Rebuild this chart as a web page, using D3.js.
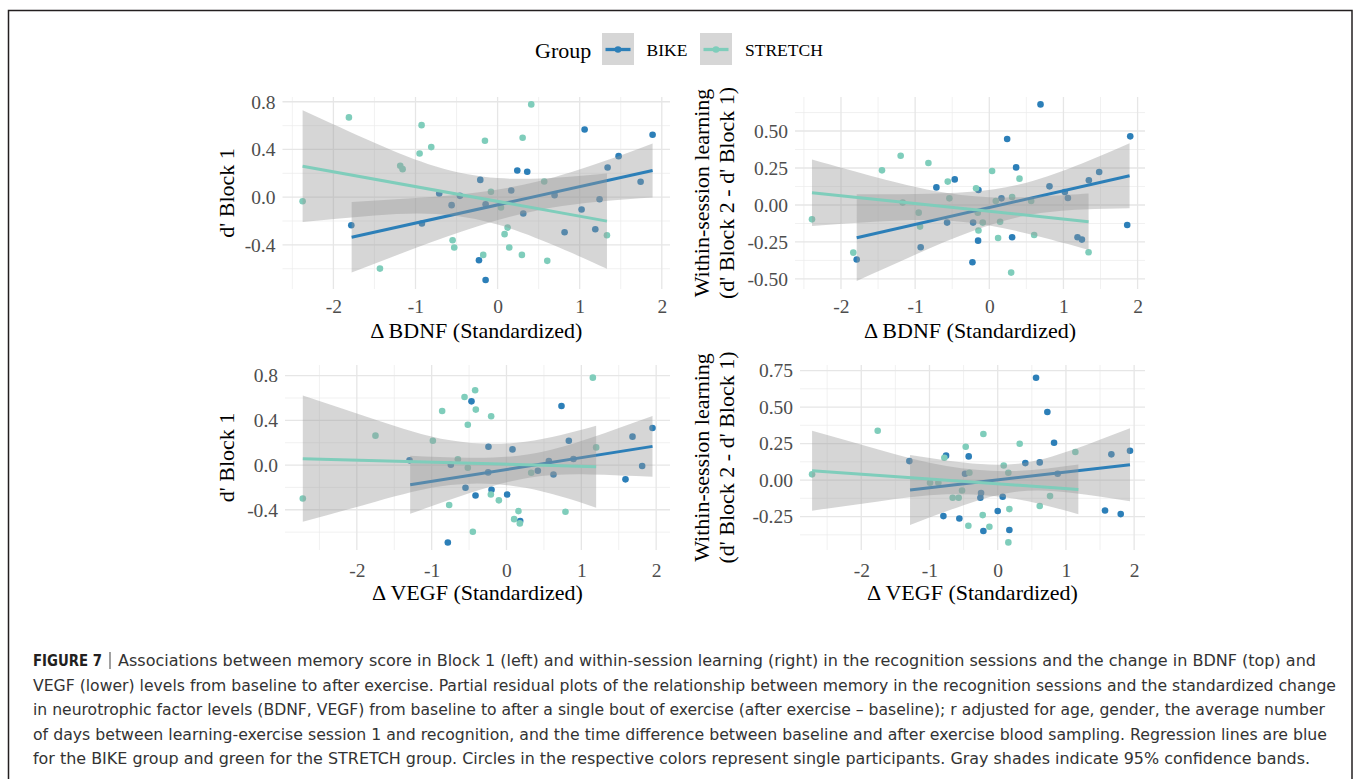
<!DOCTYPE html>
<html>
<head>
<meta charset="utf-8">
<script src="https://cdn.jsdelivr.net/npm/d3@7"></script>
<style>
    body { margin: 0; background: #fff; }
    svg { display: block; }
</style>
</head>
<body>
<script>
// Figure 7: partial residual plots, BIKE vs STRETCH, BDNF (top) and VEGF (bottom)

const groups = ["BIKE", "STRETCH"]
const groupColors = ["#2c7fb8", "#7fcdbb"]

const xTicks = [-2, -1, 0, 1, 2]
const xMinorTicks = [-2.5, -1.5, -0.5, 0.5, 1.5]
const block1Ticks = [-0.4, 0, 0.4, 0.8]
const block1Minor = [-0.6, -0.2, 0.2, 0.6]
const learnTicksTop = [-0.5, -0.25, 0, 0.25, 0.5]
const learnMinorTop = [-0.375, -0.125, 0.125, 0.375, 0.625]
const learnTicksBottom = [-0.25, 0, 0.25, 0.5, 0.75]
const learnMinorBottom = [-0.375, -0.125, 0.125, 0.375, 0.625]

// ---- BDNF vs d' Block 1 ----
const bdnfBlock1Bike = [[-1.782, -0.235], [-0.922, -0.221], [-0.711, 0.031], [-0.560, -0.067], [-0.459, 0.011], [-0.211, 0.145], [-0.227, -0.529], [-0.146, -0.694], [-0.146, -0.059], [0.166, 0.056], [0.240, 0.224], [0.361, 0.213], [0.313, -0.137], [0.694, 0.017], [0.816, -0.294], [1.023, -0.103], [1.060, 0.568], [1.190, -0.269], [1.242, -0.017], [1.340, 0.249], [1.474, 0.344], [1.742, 0.129], [1.888, 0.523]]
const bdnfBlock1Stretch = [[-2.375, -0.034], [-1.811, 0.669], [-1.433, -0.599], [-1.186, 0.263], [-1.157, 0.235], [-0.926, 0.604], [-0.950, 0.366], [-0.808, 0.420], [-0.548, -0.361], [-0.528, -0.422], [-0.081, 0.045], [-0.154, 0.473], [-0.175, -0.484], [0.041, -0.087], [0.122, -0.255], [0.085, -0.310], [0.142, -0.422], [0.296, -0.484], [0.305, 0.498], [0.410, 0.778], [0.568, 0.131], [0.605, -0.534], [1.332, -0.319]]
const bdnfBlock1Fit = [[[-1.778, -0.336], [1.888, 0.224]], [[-2.375, 0.260], [1.332, -0.201]]]
// [x, lower, upper]
const bdnfBlock1BandBike = [[-1.778, -0.632, -0.040], [-1, -0.427, -0.007], [-0.25, -0.246, 0.040], [0.5, -0.109, 0.133], [1.25, -0.037, 0.291], [1.888, -0.003, 0.451]]
const bdnfBlock1BandStretch = [[-2.375, -0.208, 0.728], [-1.5, -0.153, 0.456], [-0.75, -0.141, 0.257], [0, -0.230, 0.160], [0.75, -0.423, 0.166], [1.332, -0.601, 0.199]]

// ---- BDNF vs within-session learning ----
const bdnfLearnBike = [[-1.788, -0.369], [-0.925, -0.286], [-0.713, 0.119], [-0.569, -0.119], [-0.466, 0.173], [-0.218, -0.119], [-0.227, -0.387], [-0.146, 0.101], [-0.151, -0.241], [0.164, 0.045], [0.241, 0.446], [0.308, -0.218], [0.362, 0.254], [0.691, 0.680], [0.812, 0.126], [1.019, 0.088], [1.060, 0.047], [1.190, -0.218], [1.249, -0.234], [1.343, 0.167], [1.482, 0.223], [1.860, -0.135], [1.901, 0.464]]
const bdnfLearnStretch = [[-2.391, -0.097], [-1.834, -0.322], [-1.447, 0.234], [-1.195, 0.333], [-1.168, 0.016], [-0.821, 0.284], [-0.952, -0.052], [-0.934, -0.146], [-0.560, 0.158], [-0.538, 0.045], [-0.178, 0.113], [-0.155, -0.052], [-0.146, -0.173], [-0.088, -0.119], [0.038, 0.230], [0.088, 0.027], [0.119, -0.223], [0.146, -0.113], [0.308, 0.054], [0.295, -0.457], [0.407, 0.178], [0.565, 0.027], [0.605, -0.203], [1.339, -0.320]]
const bdnfLearnFit = [[[-1.788, -0.221], [1.892, 0.198]], [[-2.391, 0.083], [1.339, -0.113]]]
const bdnfLearnBandBike = [[-1.788, -0.514, 0.072], [-1, -0.336, 0.074], [-0.25, -0.181, 0.089], [0.5, -0.071, 0.151], [1.25, -0.031, 0.281], [1.892, -0.022, 0.418]]
const bdnfLearnBandStretch = [[-2.391, -0.142, 0.308], [-1.5, -0.112, 0.184], [-0.75, -0.102, 0.096], [0, -0.139, 0.053], [0.75, -0.223, 0.059], [1.339, -0.303, 0.077]]

// ---- VEGF vs d' Block 1 ----
const vegfBlock1Bike = [[-1.296, 0.042], [-0.744, 0.003], [-0.784, -0.693], [-0.548, -0.203], [-0.468, 0.570], [-0.414, -0.272], [-0.241, 0.164], [-0.245, -0.066], [-0.200, -0.221], [0.009, -0.263], [0.080, 0.140], [0.183, -0.501], [0.419, -0.051], [0.566, 0.036], [0.628, -0.084], [0.735, 0.528], [0.833, 0.218], [0.895, 0.054], [1.590, -0.128], [1.684, 0.254], [1.813, -0.009], [1.951, 0.331]]
const vegfBlock1Stretch = [[-2.722, -0.299], [-1.751, 0.263], [-0.984, 0.218], [-0.860, 0.484], [-0.766, -0.358], [-0.650, 0.051], [-0.561, 0.609], [-0.517, -0.024], [-0.517, 0.361], [-0.419, 0.669], [-0.410, 0.496], [-0.450, -0.597], [-0.205, 0.436], [-0.209, -0.263], [-0.102, -0.316], [0.102, -0.484], [0.160, -0.412], [0.178, -0.522], [0.330, -0.069], [0.788, -0.418], [1.154, 0.782], [1.198, 0.158]]
const vegfBlock1Fit = [[[-1.287, -0.176], [1.951, 0.167]], [[-2.722, 0.057], [1.198, -0.015]]]
const vegfBlock1BandBike = [[-1.287, -0.436, 0.084], [-0.5, -0.252, 0.066], [0.3, -0.113, 0.097], [1.1, -0.084, 0.238], [1.951, -0.105, 0.439]]
const vegfBlock1BandStretch = [[-2.722, -0.508, 0.622], [-1.75, -0.328, 0.406], [-0.75, -0.179, 0.221], [0.25, -0.204, 0.208], [1.198, -0.381, 0.351]]

// ---- VEGF vs within-session learning ----
const vegfLearnBike = [[-1.295, 0.130], [-0.796, -0.247], [-0.757, 0.167], [-0.562, -0.263], [-0.425, 0.162], [-0.479, 0.043], [-0.254, -0.121], [-0.244, -0.089], [-0.210, -0.349], [0.0, -0.212], [0.073, -0.114], [0.171, -0.342], [0.405, 0.116], [0.562, 0.701], [0.616, 0.121], [0.728, 0.466], [0.826, 0.256], [0.879, 0.043], [1.573, -0.208], [1.666, 0.176], [1.803, -0.233], [1.939, 0.201]]
const vegfLearnStretch = [[-2.721, 0.039], [-1.759, 0.338], [-0.992, -0.018], [-0.870, -0.018], [-0.782, 0.153], [-0.660, -0.121], [-0.572, -0.121], [-0.523, -0.071], [-0.469, 0.228], [-0.430, -0.313], [-0.415, 0.050], [-0.220, -0.240], [-0.210, 0.315], [-0.122, -0.320], [0.088, 0.100], [0.156, 0.050], [0.171, -0.199], [0.156, -0.427], [0.322, 0.249], [0.616, -0.178], [0.767, -0.110], [1.138, 0.192]]
const vegfLearnFit = [[[-1.285, -0.068], [1.939, 0.105]], [[-2.721, 0.064], [1.182, -0.064]]]
const vegfLearnBandBike = [[-1.285, -0.308, 0.172], [-0.5, -0.172, 0.120], [0.3, -0.078, 0.112], [1.1, -0.088, 0.208], [1.939, -0.145, 0.355]]
const vegfLearnBandStretch = [[-2.721, -0.210, 0.338], [-1.75, -0.146, 0.210], [-0.75, -0.098, 0.096], [0.25, -0.128, 0.062], [1.182, -0.234, 0.106]]

const captionLines = [
    "Associations between memory score in Block 1 (left) and within-session learning (right) in the recognition sessions and the change in BDNF (top) and",
    "VEGF (lower) levels from baseline to after exercise. Partial residual plots of the relationship between memory in the recognition sessions and the standardized change",
    "in neurotrophic factor levels (BDNF, VEGF) from baseline to after a single bout of exercise (after exercise \u2013 baseline); r adjusted for age, gender, the average number",
    "of days between learning-exercise session 1 and recognition, and the time difference between baseline and after exercise blood sampling. Regression lines are blue",
    "for the BIKE group and green for the STRETCH group. Circles in the respective colors represent single participants. Gray shades indicate 95% confidence bands."
]

const width = 1356,
    height = 779

const serif = '"Liberation Serif", "Times New Roman", serif'
const narrow = '"Liberation Sans Narrow", "Arial Narrow", "DejaVu Sans Condensed", sans-serif'

const locale = d3.formatLocale({ decimal: ".", thousands: ",", grouping: [3], currency: ["", ""], minus: "-" })

const panels = [
    {
        bike: bdnfBlock1Bike, stretch: bdnfBlock1Stretch, fit: bdnfBlock1Fit,
        bands: [bdnfBlock1BandBike, bdnfBlock1BandStretch],
        xDomain: [-2.62, 2.10], xRange: [282.5, 670], yDomain: [-0.77, 0.84], yRange: [289, 97],
        yTicks: block1Ticks, yMinor: block1Minor, fmt: locale.format(".1f"),
        xTitle: "\u0394 BDNF (Standardized)", yTitle: ["d' Block 1"], yTitleX: 226.7,
        tickPad: 10, xTitleY: 337.5
    },
    {
        bike: bdnfLearnBike, stretch: bdnfLearnStretch, fit: bdnfLearnFit,
        bands: [bdnfLearnBandBike, bdnfLearnBandStretch],
        xDomain: [-2.62, 2.10], xRange: [795, 1145], yDomain: [-0.568, 0.73], yRange: [289, 97],
        yTicks: learnTicksTop, yMinor: learnMinorTop, fmt: locale.format(".2f"),
        xTitle: "\u0394 BDNF (Standardized)", yTitle: ["Within-session learning", "(d' Block 2 - d' Block 1)"], yTitleX: 701.7,
        tickPad: 10, xTitleY: 337.5
    },
    {
        bike: vegfBlock1Bike, stretch: vegfBlock1Stretch, fit: vegfBlock1Fit,
        bands: [vegfBlock1BandBike, vegfBlock1BandStretch],
        xDomain: [-2.96, 2.185], xRange: [285, 670], yDomain: [-0.76, 0.895], yRange: [550, 365],
        yTicks: block1Ticks, yMinor: block1Minor, fmt: locale.format(".1f"),
        xTitle: "\u0394 VEGF (Standardized)", yTitle: ["d' Block 1"], yTitleX: 226.7,
        tickPad: 13, xTitleY: 600
    },
    {
        bike: vegfLearnBike, stretch: vegfLearnStretch, fit: vegfLearnFit,
        bands: [vegfLearnBandBike, vegfLearnBandStretch],
        xDomain: [-2.898, 2.159], xRange: [800, 1145], yDomain: [-0.479, 0.788], yRange: [550, 365],
        yTicks: learnTicksBottom, yMinor: learnMinorBottom, fmt: locale.format(".2f"),
        xTitle: "\u0394 VEGF (Standardized)", yTitle: ["Within-session learning", "(d' Block 2 - d' Block 1)"], yTitleX: 701.7,
        tickPad: 13, xTitleY: 600
    }
]

const svg = d3.select("body").append("svg")
    .attr("width", width)
    .attr("height", height)

// figure frame
svg.append("rect")
    .attr("x", 8.5).attr("y", 10.5)
    .attr("width", 1343.5).attr("height", 800)
    .attr("fill", "none")
    .attr("stroke", "#231f20")
    .attr("stroke-width", 1.5)

panels.forEach((p) => {
    const x = d3.scaleLinear().domain(p.xDomain).range(p.xRange)
    const y = d3.scaleLinear().domain(p.yDomain).range(p.yRange)
    const g = svg.append("g")
    const [x0, x1] = p.xRange
    const [yb, yt] = p.yRange

    // grid
    g.selectAll(".vminor").data(xMinorTicks.filter((d) => d > p.xDomain[0] && d < p.xDomain[1]))
        .join("line").attr("class", "vminor")
        .attr("x1", (d) => x(d)).attr("x2", (d) => x(d))
        .attr("y1", yt).attr("y2", yb)
        .attr("stroke", "#ebebeb").attr("stroke-width", 0.7)
    g.selectAll(".hminor").data(p.yMinor.filter((d) => d > p.yDomain[0] && d < p.yDomain[1]))
        .join("line").attr("class", "hminor")
        .attr("x1", x0).attr("x2", x1)
        .attr("y1", (d) => y(d)).attr("y2", (d) => y(d))
        .attr("stroke", "#ebebeb").attr("stroke-width", 0.7)
    g.selectAll(".vmajor").data(xTicks)
        .join("line").attr("class", "vmajor")
        .attr("x1", (d) => x(d)).attr("x2", (d) => x(d))
        .attr("y1", yt).attr("y2", yb)
        .attr("stroke", "#e6e6e6").attr("stroke-width", 1.3)
    g.selectAll(".hmajor").data(p.yTicks)
        .join("line").attr("class", "hmajor")
        .attr("x1", x0).attr("x2", x1)
        .attr("y1", (d) => y(d)).attr("y2", (d) => y(d))
        .attr("stroke", "#e6e6e6").attr("stroke-width", 1.3)

    // participants
    ;[p.bike, p.stretch].forEach((pts, i) => {
        g.append("g").selectAll("circle").data(pts)
            .join("circle")
            .attr("cx", (d) => x(d[0]))
            .attr("cy", (d) => y(d[1]))
            .attr("r", 3.3)
            .attr("fill", groupColors[i])
    })

    // smooth: ribbon then line, per group
    const area = d3.area()
        .x((d) => x(d[0]))
        .y0((d) => y(d[1]))
        .y1((d) => y(d[2]))
        .curve(d3.curveNatural)
    const line = d3.line()
        .x((d) => x(d[0]))
        .y((d) => y(d[1]))

    p.bands.forEach((band, i) => {
        g.append("path")
            .attr("d", area(band))
            .attr("fill", "#999999")
            .attr("fill-opacity", 0.4)
        g.append("path")
            .attr("d", line(p.fit[i]))
            .attr("fill", "none")
            .attr("stroke", groupColors[i])
            .attr("stroke-width", 3)
    })

    // axes
    const yAxis = g.append("g")
        .attr("transform", `translate(${x0},0)`)
        .call(d3.axisLeft(y).tickValues(p.yTicks).tickSize(0).tickPadding(7).tickFormat(p.fmt))
    const xAxis = g.append("g")
        .attr("transform", `translate(0,${yb})`)
        .call(d3.axisBottom(x).tickValues(xTicks).tickSize(0).tickPadding(p.tickPad).tickFormat(locale.format("d")))
    ;[yAxis, xAxis].forEach((a) => {
        a.select(".domain").remove()
        a.selectAll("text")
            .attr("font-family", serif)
            .attr("font-size", 19.5)
            .attr("fill", "#4d4d4d")
    })

    g.append("text")
        .attr("x", (x0 + x1) / 2)
        .attr("y", p.xTitleY)
        .attr("text-anchor", "middle")
        .attr("font-family", serif)
        .attr("font-size", 22)
        .attr("fill", "#000")
        .text(p.xTitle)

    const cy = (yb + yt) / 2
    p.yTitle.forEach((t, i) => {
        g.append("text")
            .attr("transform", `translate(${p.yTitleX + i * 25},${cy}) rotate(-90)`)
            .attr("text-anchor", "middle")
            .attr("dy", "0.35em")
            .attr("font-family", serif)
            .attr("font-size", 22)
            .attr("fill", "#000")
            .text(t)
    })
})

// legend
const legend = svg.append("g").attr("id", "legend")
legend.append("text")
    .attr("x", 535).attr("y", 57.5)
    .attr("font-family", serif)
    .attr("font-size", 22)
    .text("Group")

const keyX = [602, 700]
const labelX = [646.5, 745]
groups.forEach((name, i) => {
    const k = legend.append("g").attr("transform", `translate(${keyX[i]},33)`)
    k.append("rect")
        .attr("width", 32).attr("height", 32)
        .attr("fill", "#999999").attr("fill-opacity", 0.4)
    k.append("line")
        .attr("x1", 3.5).attr("x2", 28.5)
        .attr("y1", 16.5).attr("y2", 16.5)
        .attr("stroke", groupColors[i])
        .attr("stroke-width", 3.3)
    k.append("circle")
        .attr("cx", 16).attr("cy", 16.5).attr("r", 3.3)
        .attr("fill", groupColors[i])
    legend.append("text")
        .attr("x", labelX[i]).attr("y", 55.5)
        .attr("font-family", serif)
        .attr("font-size", 17.5)
        .text(name)
})

// caption
const capStart = [118, 33, 33, 33, 33]
const capEnd = [1316, 1336, 1325, 1327, 1310]
const cap = svg.append("g").attr("id", "caption")
cap.append("text")
    .attr("x", 33).attr("y", 666)
    .attr("font-family", narrow)
    .attr("font-size", 15.5)
    .attr("font-weight", "bold")
    .attr("fill", "#231f20")
    .attr("textLength", 69)
    .attr("lengthAdjust", "spacingAndGlyphs")
    .text("FIGURE 7")
cap.append("rect")
    .attr("x", 109.5).attr("y", 652)
    .attr("width", 1).attr("height", 17)
    .attr("fill", "#444")
cap.selectAll(".cap-line").data(captionLines)
    .join("text")
    .attr("class", "cap-line")
    .attr("x", (d, i) => capStart[i])
    .attr("y", (d, i) => 666 + i * 24.6)
    .attr("font-family", narrow)
    .attr("font-size", 15.5)
    .attr("fill", "#333")
    .attr("textLength", (d, i) => capEnd[i] - capStart[i])
    .attr("lengthAdjust", "spacingAndGlyphs")
    .text((d) => d)
</script>
</body>
</html>
